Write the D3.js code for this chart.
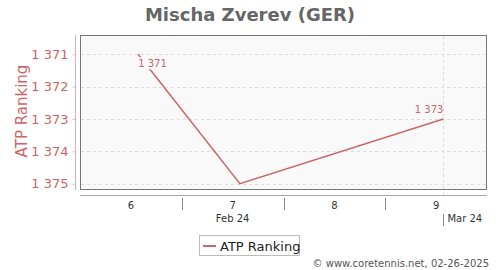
<!DOCTYPE html>
<html>
<head>
<meta charset="utf-8">
<script src="https://cdn.jsdelivr.net/npm/d3@7"></script>
<style>
  body { margin: 0; background: #fff; }
  svg { font-family: "DejaVu Sans", sans-serif; display: block; }
</style>
</head>
<body>
<div class="chartContainer"></div>
<script>
// Data
var dates = ["2024-02-09", "2024-02-16", "2024-03-01"];
var rankings = [1371, 1375, 1373];
var rankTicks = [1371, 1372, 1373, 1374, 1375];
var weekLabels = ["6", "7", "8", "9"];
var weekStarts = ["2024-02-05", "2024-02-12", "2024-02-19", "2024-02-26"];
var monthLabels = ["Feb 24", "Mar 24"];
var monthStarts = ["2024-02-01", "2024-03-01"];

const W = 500;
const H = 270;
const RED = "#cc6666";
const DAY = 864e5;
const parse = d3.utcParse("%Y-%m-%d");

var points = dates.map((d, i) => ({ date: parse(d), value: rankings[i] }));

const svg = d3
  .select(".chartContainer")
  .append("svg")
  .attr("width", W)
  .attr("height", H);

// Scales
var x = d3
  .scaleUtc()
  .domain([parse("2024-02-05"), parse("2024-03-04")])
  .range([80, 487]);
var y = d3.scaleLinear().domain([1371, 1375]).range([54.3, 183.7]);

var fmt = (v) => d3.format(",")(v).replace(",", " ");

// Title
svg
  .append("text")
  .attr("x", 250)
  .attr("y", 21)
  .attr("text-anchor", "middle")
  .attr("font-size", "18px")
  .attr("font-weight", "bold")
  .attr("fill", "#666")
  .text("Mischa Zverev (GER)");

// Plot background
svg
  .append("rect")
  .attr("x", 80.5)
  .attr("y", 35.5)
  .attr("width", 406)
  .attr("height", 154)
  .attr("fill", "#f9f9f9")
  .attr("stroke", "#777")
  .attr("stroke-width", 1);

// Grid
svg
  .append("g")
  .selectAll("line")
  .data(rankTicks)
  .enter()
  .append("line")
  .attr("x1", 81)
  .attr("x2", 486)
  .attr("y1", (d) => Math.round(y(d)) + 0.5)
  .attr("y2", (d) => Math.round(y(d)) + 0.5)
  .attr("stroke", "#ddd")
  .attr("stroke-dasharray", "3,3");

svg
  .append("line")
  .attr("x1", Math.round(x(parse(monthStarts[1]))) + 0.5)
  .attr("x2", Math.round(x(parse(monthStarts[1]))) + 0.5)
  .attr("y1", 36)
  .attr("y2", 196)
  .attr("stroke", "#ddd")
  .attr("stroke-dasharray", "3,3");

// Y axis
var yAxis = svg
  .append("g")
  .attr("transform", "translate(75.5,0)")
  .call(d3.axisLeft(y).tickValues(rankTicks).tickFormat(fmt).tickSize(3).tickSizeOuter(0));
yAxis.select(".domain").remove();
yAxis.selectAll(".tick line").attr("stroke", "#ccc");
yAxis
  .selectAll("text")
  .attr("fill", RED)
  .attr("font-size", "13px")
  .attr("x", -7)
  .attr("font-family", "DejaVu Sans, sans-serif");
svg
  .append("line")
  .attr("x1", 75.5)
  .attr("x2", 75.5)
  .attr("y1", 35)
  .attr("y2", 190)
  .attr("stroke", "#e0b0b0");

svg
  .append("text")
  .attr("transform", "translate(27,111) rotate(-90)")
  .attr("text-anchor", "middle")
  .attr("font-size", "15px")
  .attr("fill", RED)
  .text("ATP Ranking");

// X axis
svg
  .append("line")
  .attr("x1", 80)
  .attr("x2", 487)
  .attr("y1", 195.5)
  .attr("y2", 195.5)
  .attr("stroke", "#aaa");

var weekDates = weekStarts.map(parse);
svg
  .append("g")
  .selectAll("line")
  .data(weekDates.slice(1))
  .enter()
  .append("line")
  .attr("x1", (d) => Math.round(x(d)) + 0.5)
  .attr("x2", (d) => Math.round(x(d)) + 0.5)
  .attr("y1", 198)
  .attr("y2", 210)
  .attr("stroke", "#888");

svg
  .append("g")
  .selectAll("text")
  .data(weekDates)
  .enter()
  .append("text")
  .attr("x", (d) => x(new Date(+d + 3.5 * DAY)))
  .attr("y", 209)
  .attr("text-anchor", "middle")
  .attr("font-size", "10px")
  .attr("fill", "#333")
  .text((d, i) => weekLabels[i]);

// Month labels
var febStart = parse(monthStarts[0]);
var marStart = parse(monthStarts[1]);
svg
  .append("text")
  .attr("x", x(new Date((+febStart + +marStart) / 2)))
  .attr("y", 222)
  .attr("text-anchor", "middle")
  .attr("font-size", "10px")
  .attr("fill", "#333")
  .text(monthLabels[0]);
svg
  .append("line")
  .attr("x1", Math.round(x(marStart)) + 0.5)
  .attr("x2", Math.round(x(marStart)) + 0.5)
  .attr("y1", 214)
  .attr("y2", 226)
  .attr("stroke", "#888");
svg
  .append("text")
  .attr("x", x(marStart) + 4)
  .attr("y", 222)
  .attr("font-size", "10px")
  .attr("fill", "#333")
  .text(monthLabels[1]);

// Line
var line = d3
  .line()
  .x((d) => x(d.date))
  .y((d) => y(d.value));
svg
  .append("path")
  .datum(points)
  .attr("d", line)
  .attr("fill", "none")
  .attr("stroke", RED)
  .attr("stroke-width", 1.5);

// Data labels
var first = points[0];
var last = points[points.length - 1];
svg
  .append("rect")
  .attr("x", x(first.date) - 1)
  .attr("y", y(first.value) + 3)
  .attr("width", 29)
  .attr("height", 12)
  .attr("fill", "#f9f9f9");
svg
  .append("text")
  .attr("x", x(first.date))
  .attr("y", y(first.value) + 13)
  .attr("font-size", "10px")
  .attr("fill", RED)
  .text(fmt(first.value));
svg
  .append("text")
  .attr("x", x(last.date))
  .attr("y", y(last.value) - 6)
  .attr("text-anchor", "end")
  .attr("font-size", "10px")
  .attr("fill", RED)
  .text(fmt(last.value));

// Legend
var legend = svg.append("g").attr("id", "legend");
legend
  .append("rect")
  .attr("x", 199.5)
  .attr("y", 235.5)
  .attr("width", 100)
  .attr("height", 20)
  .attr("fill", "#fff")
  .attr("stroke", "#bbb");
legend
  .append("line")
  .attr("x1", 203)
  .attr("x2", 216)
  .attr("y1", 246)
  .attr("y2", 246)
  .attr("stroke", RED)
  .attr("stroke-width", 2);
legend
  .append("text")
  .attr("x", 220)
  .attr("y", 250.5)
  .attr("font-size", "13px")
  .attr("fill", "#222")
  .text("ATP Ranking");

// Credit
svg
  .append("text")
  .attr("x", 489)
  .attr("y", 267)
  .attr("text-anchor", "end")
  .attr("font-size", "10px")
  .attr("fill", "#555")
  .text("\u00a9 www.coretennis.net, 02-26-2025");
</script>
</body>
</html>
